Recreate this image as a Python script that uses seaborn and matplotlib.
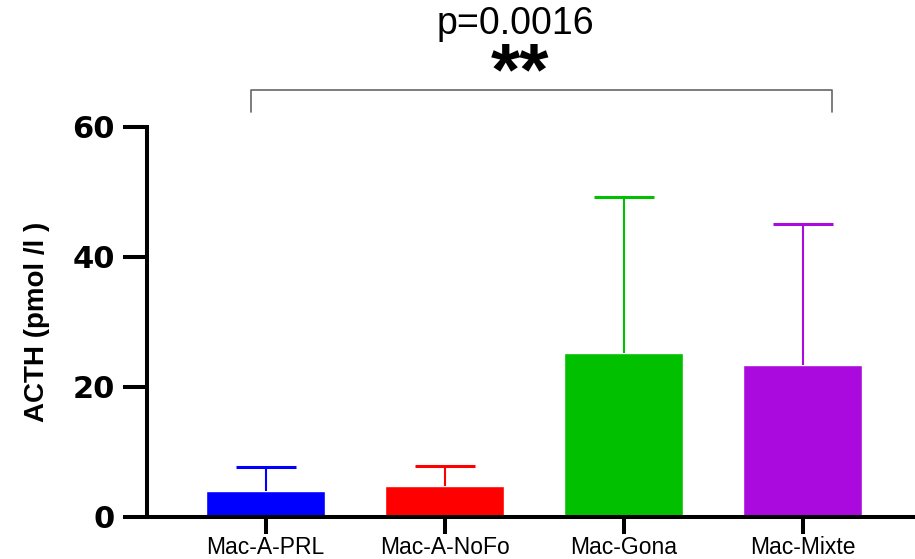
import matplotlib
matplotlib.use("Agg")
import matplotlib.pyplot as plt
import seaborn as sns
import numpy as np
import pandas as pd

# Values
groups = ["Mac-A-PRL", "Mac-A-NoFo", "Mac-Gona", "Mac-Mixte"]
acth_mean = [3.9, 4.7, 25.2, 23.3]
acth_sd = [3.7, 3.1, 24.0, 21.7]
bar_colors = ["#0000FF", "#FF0000", "#00C000", "#AA0ADE"]
y_ticks = [0, 20, 40, 60]
p_label = "p=0.0016"
stars = "**"

sns.set_theme(style="ticks")
plt.rcParams["font.family"] = ["Liberation Sans", "DejaVu Sans"]

df = pd.DataFrame({"group": groups, "acth": acth_mean})

fig = plt.figure(figsize=(9.15, 5.59), dpi=100)
ax = fig.add_axes([0.1603, 0.076, 0.8397, 0.6977])

sns.barplot(data=df, x="group", y="acth", hue="group", palette=bar_colors,
            order=groups, hue_order=groups, width=0.665, errorbar=None,
            legend=False, saturation=1, ax=ax)

# upper-only error bars (SD), same colour as the bar
cap_half = 0.168
for i, (m, s, c) in enumerate(zip(acth_mean, acth_sd, bar_colors)):
    ax.vlines(i, m, m + s, color=c, lw=1.5, zorder=1)
    ax.hlines(m + s, i - cap_half, i + cap_half, color=c, lw=2.2, zorder=1)

ax.set_xlim(-0.665, 3.627)
ax.set_ylim(0, 60)
ax.set_yticks(y_ticks)
ax.set_yticklabels([str(t) for t in y_ticks], fontsize=22, fontweight="bold",
                   family="DejaVu Sans")
ax.set_xticks(range(len(groups)))
ax.set_xticklabels(groups, fontsize=16.5)
ax.set_xlabel("")
ax.set_ylabel("ACTH (pmol /l )", fontsize=20, fontweight="bold", labelpad=16,
              color="black")

sns.despine(ax=ax)
for side in ["left", "bottom"]:
    ax.spines[side].set_linewidth(2.9)
    ax.spines[side].set_color("black")
ax.tick_params(axis="y", length=17, width=2.9, pad=6, colors="black")
ax.tick_params(axis="x", length=12, width=2.9, pad=2, colors="black")

# significance bracket over all groups
ax.plot([-0.084, -0.084, 3.164, 3.164], [62.3, 65.6, 65.6, 62.3],
        color="#666666", lw=1.2, clip_on=False)
ax.text(1.397, 74.3, p_label, ha="center", va="baseline", fontsize=27,
        color="black", clip_on=False)
ax.text(1.42, 65.0, stars, ha="center", va="baseline", fontsize=54,
        fontweight="bold", color="black", clip_on=False)

fig.savefig("out.png", dpi=100)
